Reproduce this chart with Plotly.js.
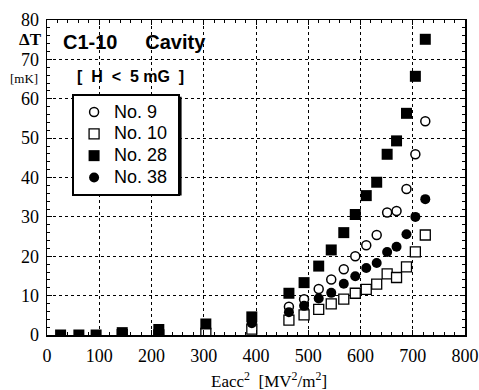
<!DOCTYPE html>
<html>
<head>
<meta charset="utf-8">
<script src="https://cdn.plot.ly/plotly-3.0.1.min.js"></script>
<style>html,body{margin:0;padding:0;background:#fff;}#chart{width:479px;height:390px;}</style>
</head>
<body>
<div id="chart"></div>
<script>
// Data (x = Eacc^2 [MV^2/m^2], y = ΔT [mK])
const no9_x  = [392, 463, 492, 520, 544, 568, 590, 611, 631, 651, 669, 688, 705, 724];
const no9_y  = [2.3, 7.2, 9.1, 11.7, 14.1, 16.7, 20.0, 22.8, 25.4, 31.1, 31.5, 37.1, 45.9, 54.3];
const no10_x = [144, 214, 304, 392, 463, 492, 520, 544, 568, 590, 611, 631, 651, 669, 688, 705, 724];
const no10_y = [0.1, 0.0, 0.4, 1.5, 3.8, 5.1, 6.5, 7.9, 9.1, 10.6, 11.6, 12.9, 15.5, 14.6, 17.3, 21.1, 25.4];
const no28_x = [26, 61, 94, 144, 214, 304, 392, 463, 492, 520, 544, 568, 590, 611, 631, 651, 669, 688, 705, 724];
const no28_y = [0, 0, 0, 0.6, 1.4, 2.8, 4.6, 10.6, 13.3, 17.5, 21.6, 26.0, 30.6, 35.4, 38.8, 45.9, 49.3, 56.3, 65.7, 75.1];
const no38_x = [392, 463, 492, 520, 544, 568, 590, 611, 631, 651, 669, 688, 705, 724];
const no38_y = [3.0, 5.8, 7.4, 9.3, 10.7, 13.0, 14.9, 17.0, 18.3, 21.1, 22.4, 25.6, 30.0, 34.5];
const seriesNames = ["No. 9", "No. 10", "No. 28", "No. 38"];
const xTicks = [0, 100, 200, 300, 400, 500, 600, 700, 800];
const yTicks = [0, 10, 20, 30, 40, 50, 60, 70, 80];

const lg = n => '<span style="font-size:18px">' + n + '&nbsp;</span>';

const traces = [
  {x: no9_x, y: no9_y, name: lg(seriesNames[0]), type: 'scatter', mode: 'markers',
   marker: {symbol: 'circle', size: 9, color: '#fff', line: {color: '#000', width: 1.5}}},
  {x: no10_x, y: no10_y, name: lg(seriesNames[1]), type: 'scatter', mode: 'markers',
   marker: {symbol: 'square', size: 10, color: '#fff', line: {color: '#000', width: 1.3}}},
  {x: no28_x, y: no28_y, name: lg(seriesNames[2]), type: 'scatter', mode: 'markers',
   marker: {symbol: 'square', size: 11, color: '#000', line: {color: '#000', width: 0}}},
  {x: no38_x, y: no38_y, name: lg(seriesNames[3]), type: 'scatter', mode: 'markers',
   marker: {symbol: 'circle', size: 10, color: '#000', line: {color: '#000', width: 0}}}
];

const serif = 'Liberation Serif, Times New Roman, serif';
const sans = 'Liberation Sans, Arial, sans-serif';

const axisCommon = {
  showgrid: true, gridcolor: '#000', gridwidth: 1, griddash: '3px,3px',
  zeroline: false, showline: true, linecolor: '#000', linewidth: 1.5, mirror: 'ticks',
  ticks: 'inside', ticklen: 5, tickwidth: 1, tickcolor: '#000',
  tickfont: {family: serif, size: 18, color: '#000'}, fixedrange: true
};

const layout = {
  width: 479, height: 390,
  margin: {l: 47, r: 14, t: 20, b: 55},
  paper_bgcolor: '#fff', plot_bgcolor: '#fff',
  showlegend: true,
  legend: {x: 0.06, y: 0.765, xanchor: 'left', yanchor: 'top',
           bgcolor: '#fff', bordercolor: '#000', borderwidth: 2,
           font: {family: sans, size: 14.5, color: '#000'}, tracegroupgap: 0, itemwidth: 30},
  xaxis: Object.assign({}, axisCommon, {range: [0, 800], tickvals: xTicks, ticklabelstandoff: 4,
           minor: {dtick: 20, ticks: 'inside', ticklen: 3, tickcolor: '#000', showgrid: false}}),
  yaxis: Object.assign({}, axisCommon, {range: [0, 80], tickvals: yTicks, ticklabelstandoff: 3,
           minor: {dtick: 2, ticks: 'inside', ticklen: 3, tickcolor: '#000', showgrid: false}}),
  shapes: [
    {type: 'rect', xref: 'paper', yref: 'paper', layer: 'above',
     x0: 0.069, x1: 0.322, y0: 0.443, y1: 0.756, fillcolor: '#000', line: {width: 0}}
  ],
  annotations: [
    {text: '<b>C1-10&nbsp;&nbsp;&nbsp;&nbsp;&nbsp;Cavity</b>', xref: 'paper', yref: 'paper', x: 0.034, y: 0.93,
     xanchor: 'left', yanchor: 'middle', showarrow: false, font: {family: sans, size: 20, color: '#000'}},
    {text: '<b>[&nbsp;&nbsp;H&nbsp;&nbsp;&lt;&nbsp;&nbsp;5&nbsp;mG&nbsp;&nbsp;]</b>', xref: 'paper', yref: 'paper', x: 0.066, y: 0.822,
     xanchor: 'left', yanchor: 'middle', showarrow: false, font: {family: sans, size: 16, color: '#000'}},
    {text: '<b>ΔT</b>', xref: 'paper', yref: 'paper', x: -0.04, y: 0.937,
     xanchor: 'center', yanchor: 'middle', showarrow: false, font: {family: serif, size: 17, color: '#000'}},
    {text: '[mK]', xref: 'paper', yref: 'paper', x: -0.055, y: 0.815,
     xanchor: 'center', yanchor: 'middle', showarrow: false, font: {family: serif, size: 13, color: '#000'}},
    {text: 'Eacc<sup>2</sup>  [MV<sup>2</sup>/m<sup>2</sup>]', xref: 'paper', yref: 'paper', x: 0.531, y: -0.143,
     xanchor: 'center', yanchor: 'middle', showarrow: false, font: {family: serif, size: 17, color: '#000'}}
  ]
};

Plotly.newPlot('chart', traces, layout, {displayModeBar: false, staticPlot: true});
</script>
</body>
</html>
